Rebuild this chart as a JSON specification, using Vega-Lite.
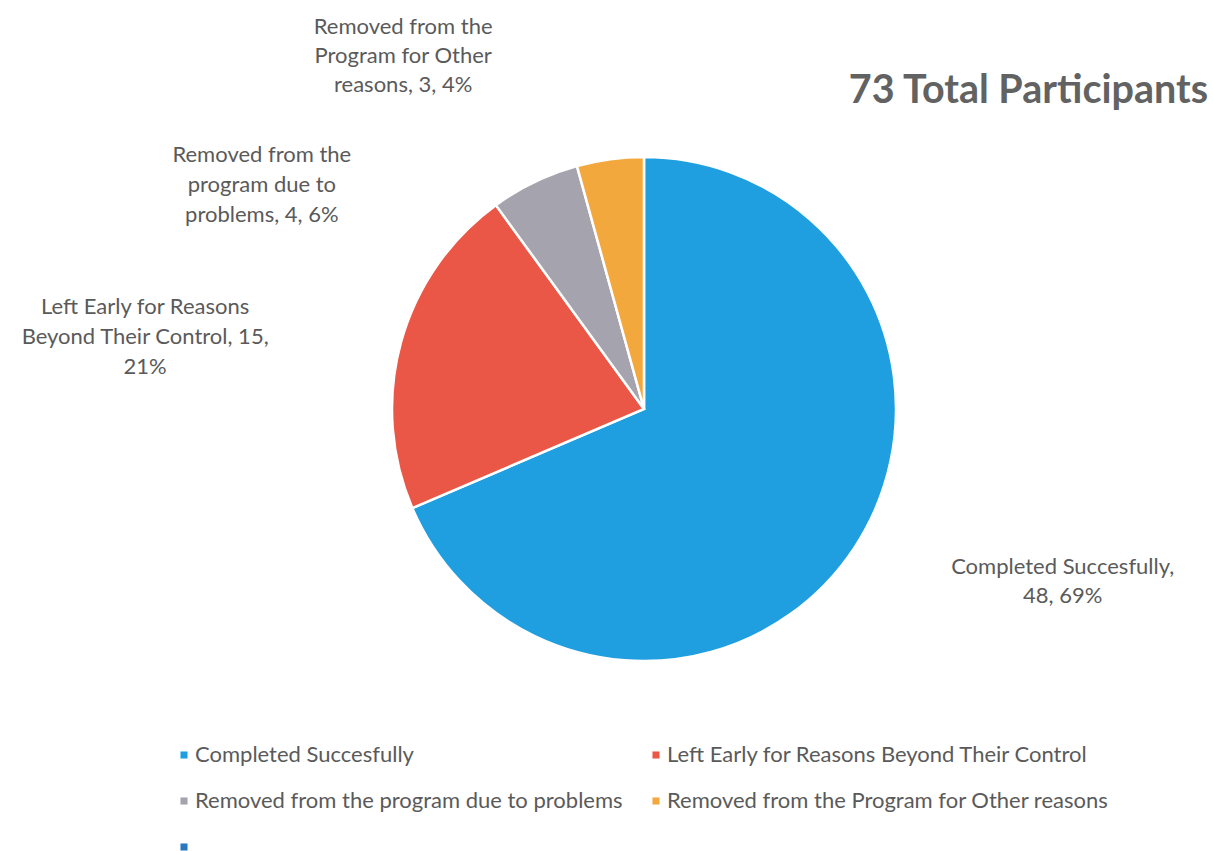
{
  "$schema": "https://vega.github.io/schema/vega-lite/v6.json",
  "width": 1128,
  "height": 598,
  "padding": {"left": 80, "top": 110, "right": 5, "bottom": 143},
  "autosize": {"type": "none"},
  "background": "white",
  "title": {
    "text": "73 Total Participants",
    "anchor": "end",
    "orient": "top",
    "frame": "group",
    "font": "Lato",
    "fontSize": 39.5,
    "fontWeight": "bold",
    "color": "#626262",
    "offset": 7,
    "dy": 102
  },
  "config": {
    "view": {"stroke": null},
    "text": {"font": "Lato", "fontSize": 22, "color": "#5a5a5a"}
  },
  "data": {
    "values": [
      {"category": "Completed Succesfully", "value": 48, "label": "Completed Succesfully,\n48, 69%"},
      {"category": "Left Early for Reasons Beyond Their Control", "value": 15, "label": "Left Early for Reasons\nBeyond Their Control, 15,\n21%"},
      {"category": "Removed from the program due to problems", "value": 4, "label": "Removed from the\nprogram due to\nproblems, 4, 6%"},
      {"category": "Removed from the Program for Other reasons", "value": 3, "label": "Removed from the\nProgram for Other\nreasons, 3, 4%"}
    ]
  },
  "transform": [
    {"stack": "value", "groupby": [], "sort": [{"field": "value", "order": "descending"}], "as": ["v0", "v1"]},
    {"calculate": "(datum.v0 + datum.v1) / 2", "as": "mid"}
  ],
  "layer": [
    {
      "mark": {"type": "arc", "outerRadius": 252, "stroke": "white", "strokeWidth": 2.5},
      "encoding": {
        "theta": {"field": "v0", "type": "quantitative", "scale": {"domain": [0, 70]}},
        "theta2": {"field": "v1"},
        "color": {
          "field": "category",
          "type": "nominal",
          "scale": {
            "domain": ["Completed Succesfully", "Left Early for Reasons Beyond Their Control", "Removed from the program due to problems", "Removed from the Program for Other reasons", " "],
            "range": ["#1f9fe0", "#ea5746", "#a5a4ae", "#f3a83e", "#2b78c2"]
          },
          "legend": {
            "title": null,
            "orient": "none",
            "direction": "horizontal",
            "legendX": 93,
            "legendY": 634,
            "columns": 2,
            "columnPadding": 22,
            "rowPadding": 24,
            "symbolType": "square",
            "symbolSize": 50,
            "symbolStrokeWidth": 0,
            "labelFont": "Lato",
            "labelFontSize": 22,
            "labelColor": "#5a5a5a",
            "labelLimit": 600,
            "labelOffset": 0
          }
        }
      }
    },
    {
      "transform": [{"filter": "datum.category === 'Completed Succesfully'"}],
      "mark": {"type": "text", "radius": 453, "thetaOffset": -0.1918, "lineBreak": "\n", "lineHeight": 29, "align": "center", "baseline": "middle", "dy": -14.5},
      "encoding": {"theta": {"field": "mid", "type": "quantitative"}, "text": {"field": "label"}}
    },
    {
      "transform": [{"filter": "datum.category === 'Left Early for Reasons Beyond Their Control'"}],
      "mark": {"type": "text", "radius": 504, "thetaOffset": -0.126, "lineBreak": "\n", "lineHeight": 30, "align": "center", "baseline": "middle", "dy": -30},
      "encoding": {"theta": {"field": "mid", "type": "quantitative"}, "text": {"field": "label"}}
    },
    {
      "transform": [{"filter": "datum.category === 'Removed from the program due to problems'"}],
      "mark": {"type": "text", "radius": 443, "thetaOffset": -0.5917, "lineBreak": "\n", "lineHeight": 30, "align": "center", "baseline": "middle", "dy": -30},
      "encoding": {"theta": {"field": "mid", "type": "quantitative"}, "text": {"field": "label"}}
    },
    {
      "transform": [{"filter": "datum.category === 'Removed from the Program for Other reasons'"}],
      "mark": {"type": "text", "radius": 427, "thetaOffset": -0.4646, "lineBreak": "\n", "lineHeight": 29, "align": "center", "baseline": "middle", "dy": -29},
      "encoding": {"theta": {"field": "mid", "type": "quantitative"}, "text": {"field": "label"}}
    }
  ]
}
